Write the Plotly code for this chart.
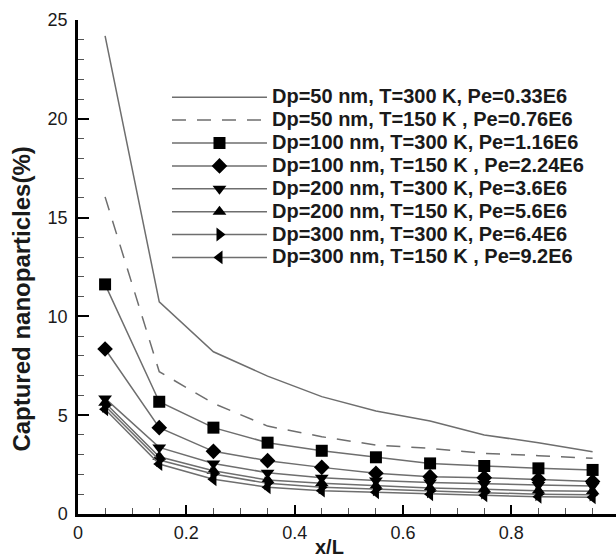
import plotly.graph_objects as go

x_vals = [0.05, 0.15, 0.25, 0.35, 0.45, 0.55, 0.65, 0.75, 0.85, 0.95]

names = [
    "Dp=50 nm, T=300 K, Pe=0.33E6",
    "Dp=50 nm, T=150 K , Pe=0.76E6",
    "Dp=100 nm, T=300 K, Pe=1.16E6",
    "Dp=100 nm, T=150 K , Pe=2.24E6",
    "Dp=200 nm, T=300 K, Pe=3.6E6",
    "Dp=200 nm, T=150 K, Pe=5.6E6",
    "Dp=300 nm, T=300 K, Pe=6.4E6",
    "Dp=300 nm, T=150 K , Pe=9.2E6",
]

s1 = [24.2, 10.74, 8.21, 6.98, 5.94, 5.21, 4.71, 4.0, 3.61, 3.15]
s2 = [16.05, 7.2, 5.6, 4.45, 3.91, 3.49, 3.32, 3.07, 2.95, 2.82]
s3 = [11.62, 5.68, 4.37, 3.61, 3.2, 2.87, 2.56, 2.43, 2.31, 2.23]
s4 = [8.35, 4.37, 3.17, 2.70, 2.36, 2.06, 1.89, 1.84, 1.75, 1.64]
s5 = [5.85, 3.37, 2.56, 2.09, 1.84, 1.70, 1.60, 1.52, 1.47, 1.42]
s6 = [5.63, 2.90, 2.19, 1.72, 1.55, 1.42, 1.32, 1.25, 1.18, 1.15]
s7 = [5.47, 2.73, 2.02, 1.55, 1.35, 1.25, 1.15, 1.08, 1.00, 0.98]
s8 = [5.30, 2.53, 1.76, 1.35, 1.18, 1.10, 1.00, 0.95, 0.87, 0.85]

series = [s1, s2, s3, s4, s5, s6, s7, s8]
symbols = [None, None, "square", "diamond", "triangle-down", "triangle-up",
           "triangle-right", "triangle-left"]
sizes = [0, 0, 12, 12, 12, 12, 12, 12]

y_ticks = [0, 5, 10, 15, 20, 25]
x_ticks = [0, 0.2, 0.4, 0.6, 0.8]
x_tick_text = ["0", "0.2", "0.4", "0.6", "0.8"]

LINE = "#6e6e6e"
FONT = "Liberation Sans, Arial, Helvetica, sans-serif"


def legend_label(s):
    return '<span style="font-size:20px">' + s + "</span>"


fig = go.Figure()
for i, (nm, ys) in enumerate(zip(names, series)):
    if symbols[i] is None:
        fig.add_trace(go.Scatter(
            x=x_vals, y=ys, name=legend_label(nm), mode="lines",
            line=dict(color=LINE, width=1.5,
                      dash="solid" if i == 0 else "14px,11px"),
        ))
    else:
        fig.add_trace(go.Scatter(
            x=x_vals, y=ys, name=legend_label(nm), mode="lines+markers",
            line=dict(color=LINE, width=1.5),
            marker=dict(symbol=symbols[i], size=sizes[i], color="black",
                        line=dict(width=0)),
        ))

fig.update_layout(
    width=616, height=559,
    margin=dict(l=78, r=0, t=20, b=45),
    paper_bgcolor="white", plot_bgcolor="white",
    font=dict(family=FONT, color="#1a1a1a", size=18),
    showlegend=True,
    legend=dict(
        x=0.1654, y=0.877, xanchor="left", yanchor="top",
        bgcolor="rgba(0,0,0,0)", borderwidth=0,
        font=dict(family=FONT, size=15.3, weight="bold", color="#1a1a1a"),
        itemwidth=95, tracegroupgap=0,
    ),
    xaxis=dict(
        range=[0, 0.9932], showgrid=False, zeroline=False,
        showline=True, linecolor="black", linewidth=2.5,
        ticks="inside", ticklen=9, tickwidth=2, tickcolor="black",
        tickvals=x_ticks, ticktext=x_tick_text,
        tickfont=dict(size=18, family=FONT),
        ticklabelstandoff=1,
        minor=dict(dtick=0.05, ticks="inside", ticklen=6, tickwidth=1,
                   tickcolor="#555555", showgrid=False),
    ),
    yaxis=dict(
        range=[0, 25], showgrid=False, zeroline=False,
        showline=True, linecolor="black", linewidth=2.5,
        ticks="inside", ticklen=11, tickwidth=2, tickcolor="black",
        tickvals=y_ticks,
        tickfont=dict(size=18, family=FONT),
        ticklabelstandoff=4,
        minor=dict(dtick=1, ticks="inside", ticklen=6, tickwidth=1,
                   tickcolor="#555555", showgrid=False),
    ),
    annotations=[
        dict(text="x/L", xref="x", yref="paper", x=0.465, y=-0.093,
             xanchor="center", yanchor="bottom", showarrow=False,
             font=dict(family=FONT, size=20, weight="bold", color="#1a1a1a")),
        dict(text="Captured nanoparticles(%)", xref="paper", yref="paper",
             x=-0.105, y=0.435, xanchor="center", yanchor="middle",
             textangle=-90, showarrow=False,
             font=dict(family=FONT, size=24, weight="bold", color="#1a1a1a")),
    ],
)

fig.write_html("out.html")
